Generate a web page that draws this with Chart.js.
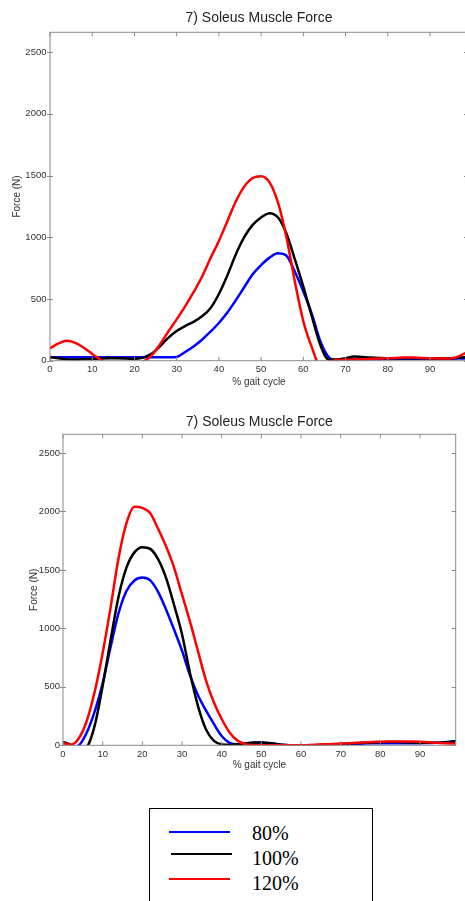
<!DOCTYPE html>
<html>
<head>
<meta charset="utf-8">
<script src="https://cdn.jsdelivr.net/npm/chart.js@4.4.1/dist/chart.umd.min.js"></script>
<style>
  html, body {
    margin: 0;
    padding: 0;
    background: #fff;
    width: 465px;
    height: 901px;
    overflow: hidden;
    position: relative;
  }
  canvas { position: absolute; left: 0; }
  #chart-walk { top: 0; }
  #chart-run { top: 400px; }
  .legend-box {
    position: absolute;
    left: 149px;
    top: 808px;
    width: 224px;
    height: 120px;
    border: 1.5px solid #000;
    box-sizing: border-box;
  }
  .swatch { position: absolute; height: 2px; }
  .label {
    position: absolute;
    left: 252px;
    font-family: "Liberation Serif", "Times New Roman", serif;
    font-size: 20px;
    line-height: 20px;
    color: #000;
    white-space: nowrap;
  }
</style>
</head>
<body>
<canvas id="chart-walk" width="470" height="400"></canvas>
<canvas id="chart-run" width="465" height="400"></canvas>

<div class="legend-box"></div>
<div class="swatch" id="sw-80" style="left:169px; top:831px; width:61px;"></div>
<div class="swatch" id="sw-100" style="left:171px; top:853px; width:61px;"></div>
<div class="swatch" id="sw-120" style="left:169px; top:878px; width:61px;"></div>
<div class="label" id="lb-80" style="top:823px;"></div>
<div class="label" id="lb-100" style="top:848px;"></div>
<div class="label" id="lb-120" style="top:873px;"></div>

<script>
// % gait cycle sample points (shared by both panels)
const gaitPct = [0, 2, 4, 6, 8, 10, 12, 14, 16, 18, 20, 22, 24, 26, 28, 30, 32, 34, 36, 38,
  40, 42, 44, 46, 48, 50, 52, 54, 56, 58, 60, 62, 64, 66, 68, 70, 72, 74, 76, 78,
  80, 82, 84, 86, 88, 90, 92, 94, 96, 98, 99];

// top panel, soleus force (N)
const walk80 = [27, 27, 27, 27, 27, 27, 27, 27, 27, 27, 27, 27, 27, 27, 27, 30, 70, 115, 170, 235,
  305, 390, 490, 595, 700, 775, 835, 870, 850, 720, 560, 380, 160, 30, 5, 10, 12, 12, 12, 12,
  14, 15, 16, 16, 16, 16, 16, 16, 17, 18, 20];
const walk100 = [30, 20, 12, 10, 12, 15, 18, 20, 20, 18, 15, 25, 55, 115, 185, 240, 280, 315, 360, 425,
  540, 690, 860, 1000, 1100, 1160, 1195, 1160, 1030, 820, 600, 360, 130, 10, 10, 20, 35, 30, 25, 22,
  20, 20, 20, 20, 20, 20, 20, 20, 22, 28, 30];
const walk120 = [100, 140, 162, 145, 105, 55, 8, -40, -40, -40, -40, -10, 40, 130, 235, 335, 440, 555, 680, 830,
  970, 1130, 1290, 1410, 1480, 1495, 1445, 1280, 1000, 640, 320, 110, -40, -10, 5, 8, 10, 12, 15, 18,
  20, 22, 25, 25, 22, 20, 18, 18, 25, 55, 75];

// bottom panel, soleus force (N)
const run80 = [-20, -20, 0, 110, 290, 530, 840, 1130, 1320, 1410, 1435, 1410, 1310, 1160, 990, 810, 600, 430, 300, 185,
  80, 20, 8, 15, 25, 25, 18, 8, 2, 0, 0, 0, 0, 2, 5, 8, 10, 12, 15, 17,
  18, 18, 18, 18, 18, 18, 20, 22, 25, 32, 35];
const run100 = [30, 3, -40, -15, 170, 510, 900, 1270, 1520, 1650, 1695, 1680, 1590, 1430, 1200, 950, 620, 340, 140, 40,
  8, 5, 8, 15, 22, 25, 20, 10, 3, 0, 0, 0, 2, 5, 8, 12, 15, 18, 22, 25,
  27, 28, 28, 27, 25, 22, 22, 22, 25, 30, 35];
const run120 = [20, 5, 60, 210, 460, 790, 1180, 1600, 1900, 2040, 2030, 1985, 1850, 1700, 1520, 1290, 1060, 810, 560, 370,
  225, 110, 40, 10, 2, 0, 0, 0, 0, 0, 0, 2, 5, 8, 12, 15, 18, 22, 25, 28,
  30, 32, 33, 33, 32, 30, 27, 22, 18, 15, 15];

const xTicks = [0, 10, 20, 30, 40, 50, 60, 70, 80, 90];
const yTicks = [0, 500, 1000, 1500, 2000, 2500];
const seriesNames = ["80%", "100%", "120%"];
const seriesColors = ["#0000ff", "#000000", "#ff0000"];

const X_MAX = 99;
const Y_MAX = 2660;
const TITLE = "7) Soleus Muscle Force";
const AXIS_COLOR = "#8a8a8a";
const TEXT_COLOR = "#333";

// MATLAB-like box with tick marks on all four sides
const boxTicks = {
  id: "boxTicks",
  afterDatasetsDraw(chart) {
    const { ctx, chartArea: a, scales } = chart;
    const len = 4;
    ctx.save();
    ctx.strokeStyle = AXIS_COLOR;
    ctx.lineWidth = 1;
    ctx.strokeRect(a.left, a.top, a.right - a.left, a.bottom - a.top);
    ctx.beginPath();
    scales.x.ticks.forEach((t) => {
      const px = scales.x.getPixelForValue(t.value);
      ctx.moveTo(px, a.bottom);
      ctx.lineTo(px, a.bottom - len);
      ctx.moveTo(px, a.top);
      ctx.lineTo(px, a.top + len);
    });
    scales.y.ticks.forEach((t) => {
      const py = Math.round(scales.y.getPixelForValue(t.value)) + 0.5;
      ctx.moveTo(a.left - 3, py);
      ctx.lineTo(a.left + 3, py);
      ctx.moveTo(a.right, py);
      ctx.lineTo(a.right - len, py);
    });
    ctx.stroke();
    ctx.restore();
  },
};

function makeDatasets(values) {
  return values.map((vals, i) => ({
    label: seriesNames[i],
    data: vals.map((v, k) => ({ x: gaitPct[k], y: v })),
    borderColor: seriesColors[i],
    borderWidth: 2.5,
    pointRadius: 0,
    cubicInterpolationMode: "monotone",
    fill: false,
    order: 3 - i,
  }));
}

function renderPanel(id, values, layout) {
  const ctx = document.getElementById(id);
  return new Chart(ctx, {
    type: "line",
    data: { datasets: makeDatasets(values) },
    plugins: [boxTicks],
    options: {
      responsive: false,
      animation: false,
      events: [],
      layout: { padding: { left: 0, right: layout.right, top: 0, bottom: 0 } },
      plugins: {
        legend: { display: false },
        tooltip: { enabled: false },
        title: {
          display: true,
          text: TITLE,
          fullSize: false,
          color: "#222",
          font: { family: "Liberation Sans, Arial, sans-serif", size: 14, weight: "normal" },
          padding: { top: layout.titleTop, bottom: layout.titleBottom },
        },
      },
      scales: {
        x: {
          type: "linear",
          min: 0,
          max: X_MAX,
          grid: { display: false, drawTicks: false },
          border: { display: false },
          afterBuildTicks: (scale) => {
            scale.ticks = xTicks.map((v) => ({ value: v }));
          },
          afterFit: (scale) => {
            scale.height = layout.xHeight;
          },
          ticks: {
            color: TEXT_COLOR,
            padding: 3,
            maxRotation: 0,
            autoSkip: false,
            font: { family: "Liberation Sans, Arial, sans-serif", size: 9.5 },
            callback: (v) => String(v),
          },
          title: {
            display: true,
            text: "% gait cycle",
            color: TEXT_COLOR,
            font: { family: "Liberation Sans, Arial, sans-serif", size: 10 },
            padding: { top: 0, bottom: layout.xTitleBottom },
          },
        },
        y: {
          min: 0,
          max: Y_MAX,
          grid: { display: false, drawTicks: false },
          border: { display: false },
          afterBuildTicks: (scale) => {
            scale.ticks = yTicks.map((v) => ({ value: v }));
          },
          afterFit: (scale) => {
            scale.width = layout.yWidth;
          },
          ticks: {
            color: TEXT_COLOR,
            padding: layout.yTickPad,
            autoSkip: false,
            font: { family: "Liberation Sans, Arial, sans-serif", size: 9.5 },
            callback: (v) => String(v),
          },
          title: {
            display: true,
            text: "Force (N)",
            color: TEXT_COLOR,
            font: { family: "Liberation Sans, Arial, sans-serif", size: 10 },
            padding: { top: layout.yTitleTop, bottom: 0 },
          },
        },
      },
    },
  });
}

renderPanel("chart-walk", [walk80, walk100, walk120], {
  right: 2,
  titleTop: 9.6,
  titleBottom: 5.9,
  xHeight: 39.3,
  xTitleBottom: 11.3,
  yWidth: 50,
  yTickPad: 3.5,
  yTitleTop: 11,
});

renderPanel("chart-run", [run80, run100, run120], {
  right: 9.3,
  titleTop: 13.3,
  titleBottom: 4.2,
  xHeight: 54.7,
  xTitleBottom: 29,
  yWidth: 63,
  yTickPad: 3,
  yTitleTop: 28,
});

// legend box below the panels
["80", "100", "120"].forEach((key, i) => {
  document.getElementById(`sw-${key}`).style.background = seriesColors[i];
  document.getElementById(`lb-${key}`).textContent = seriesNames[i];
});
</script>
</body>
</html>
